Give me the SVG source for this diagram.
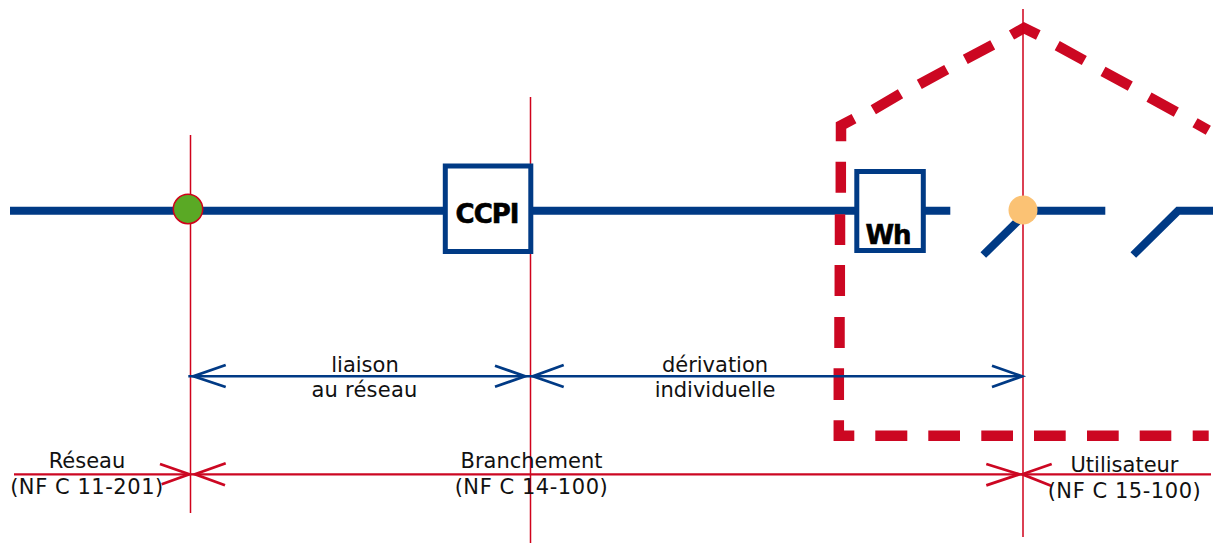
<svg xmlns="http://www.w3.org/2000/svg" width="1214" height="543" viewBox="0 0 1214 543">
<style>
.bus{fill:none;stroke:#003a85;stroke-width:8}
.box{fill:#fff;stroke:#003a85;stroke-width:5}
.ref{fill:none;stroke:#d0021b;stroke-width:1.500}
.dimb{fill:none;stroke:#003a85;stroke-width:2.500}
.headb{fill:none;stroke:#003a85;stroke-width:2.800}
.dimr{fill:none;stroke:#cc0722;stroke-width:2.300}
.headr{fill:none;stroke:#cc0722;stroke-width:2.800}
.wall{fill:none;stroke:#cc0722;stroke-width:10.500;stroke-miterlimit:8}
text{font-family:"DejaVu Sans",Verdana,sans-serif;font-size:21px;fill:#111;text-anchor:middle}
.nf{letter-spacing:.55px}
.big{font-weight:bold;fill:#000;stroke:#000;stroke-width:.6px;font-size:26px;letter-spacing:-1px}
</style>
<g id="connectors">
<path class="bus" d="M10 210.800H445M530 210.800H857M922 210.800H950.300"/>
<path class="bus" d="M983.300 255L1022 217M1035 210.800H1105.300M1133.300 255L1178 210.800H1213"/>
<path id="house-outline" class="wall" d="M1208.700 435.800H1192.700M1171.300 435.800H1139.700M1118.700 435.800H1087M1065.700 435.800H1034M1013 435.800H981.300M960 435.800H928.300M907.300 435.800H875.300M854.300 435.800H838.800V420.300M838.800 400V368.300M839.500 348V317M839.800 296V265M840 245V214.300M840.800 192.700V161.700M841 141.300V125.500L854 118.700M873.300 109.700L900.500 93.800M919.300 84.300L946.700 69.500M965.300 59.300L992.700 44.800M1011.500 35L1024 28L1038.300 35M1057.200 45.700L1084.300 60.500M1103 71.300L1130.300 86.200M1149 97.200L1176.300 112.200M1195 122.800L1208.300 130.300"/>
<path class="ref" d="M190.500 135V513M530.500 97V543M1023 9V537"/>
<path class="dimb" d="M188.300 376.300H1023"/>
<path class="headb" d="M225.700 365L193.500 376.300L225.700 387M495 365.700L525 376.300L495 386.700M563.700 365L533 376.300L563.700 387M992 365.700L1022 376.300L992 387"/>
<path class="dimr" d="M14 474.300H1211"/>
<path class="headr" d="M160 464L189.300 474.300L161.700 484.300M225.700 463.300L195 474.300L225 485.300M986.300 464L1019.300 474.300L986.300 485.300M1051.700 464L1022.300 474.300L1051.700 486"/>
</g>
<g id="node-reseau"><circle cx="188" cy="209" r="14.700" fill="#5aa925" stroke="#d0021b" stroke-width="1.500"/>
<text x="87" y="468">Réseau</text><text class="nf" x="87" y="494">(NF C 11-201)</text></g>
<g id="node-ccpi"><rect class="box" x="445.300" y="166" width="85.500" height="85.500"/><text class="big" x="487" y="223">CCPI</text></g>
<g id="node-wh"><rect class="box" x="856.800" y="171.500" width="66.500" height="79"/><text class="big" x="888" y="244">Wh</text></g>
<g id="node-switch"><circle cx="1023" cy="210" r="14.500" fill="#fbc274"/></g>
<g id="label-liaison"><text x="365" y="372">liaison</text><text x="364.500" y="397" style="letter-spacing:.25px">au réseau</text></g>
<g id="label-derivation"><text x="715" y="372">dérivation</text><text x="715" y="397">individuelle</text></g>
<g id="label-branchement"><text x="531.500" y="468">Branchement</text><text class="nf" x="531.500" y="494">(NF C 14-100)</text></g>
<g id="label-utilisateur"><text x="1124.500" y="472">Utilisateur</text><text class="nf" x="1124.500" y="498">(NF C 15-100)</text></g>
</svg>
